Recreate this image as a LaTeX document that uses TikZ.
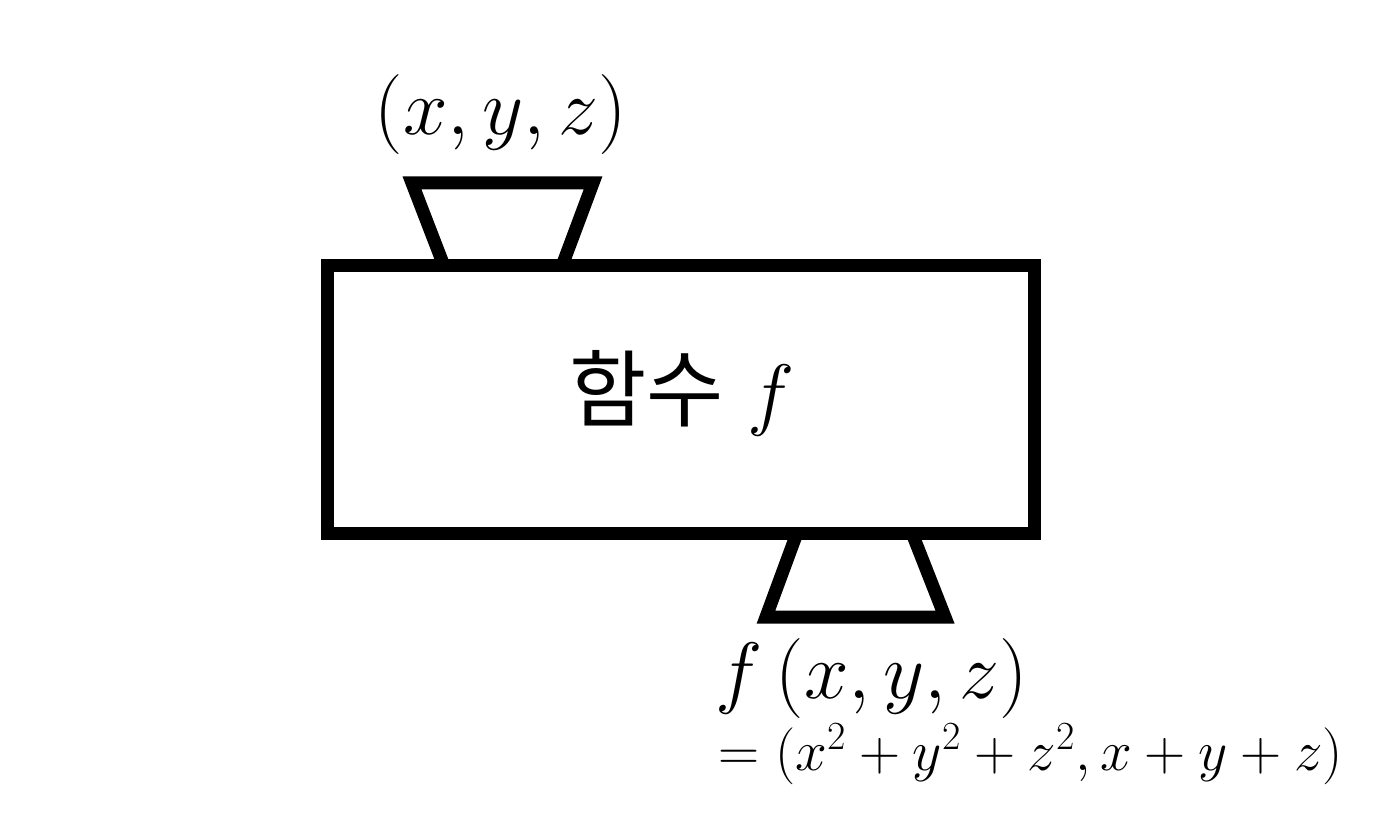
\RequirePackage{fix-cm}
\documentclass[tikz,border=0pt]{standalone}
\usepackage{fontspec}
\newfontfamily\kofont{Noto Sans CJK KR}
\usetikzlibrary{positioning}
\definecolor{fnInk}{HTML}{000000}
\tikzset{
  every picture/.style={text=fnInk},
  fn box/.style={draw=fnInk, line width=6.5pt, line join=miter, fill=white},
  fn hopper/.style={draw=fnInk, line width=6.5pt, line join=miter},
  fn big/.style={font=\fontsize{40}{44}\selectfont, inner sep=0pt},
  fn small/.style={font=\fontsize{28.5}{32}\selectfont, inner sep=0pt}
}
\begin{document}
\begin{tikzpicture}[x=0.5pt,y=-0.5pt]
  \useasboundingbox (0,0) rectangle (1400,833);
  % input and output hoppers
  \draw[fn hopper] (412,183) -- (593,183) -- (562,266) -- (444,266) -- cycle;
  \draw[fn hopper] (797,533) -- (912,533) -- (945,617) -- (766,617) -- cycle;
  % the function box
  \draw[fn box] (327,266) rectangle (1034,533);
  \coordinate (boxC) at (682,420);
  \node[fn big, anchor=base] (fname) at (boxC) {{\fontsize{42}{46}\selectfont\kofont 함수} $f$};
  \node[fn big, anchor=base] (input) at (501,135) {$(x, y, z)$};
  \node[fn big, anchor=base west] (output) at (715,698) {$f\,(x, y, z)$};
  \node[fn small, anchor=base west] (rule) at (718,770) {$= (x^2 + y^2 + z^2, x + y + z)$};
\end{tikzpicture}
\end{document}
